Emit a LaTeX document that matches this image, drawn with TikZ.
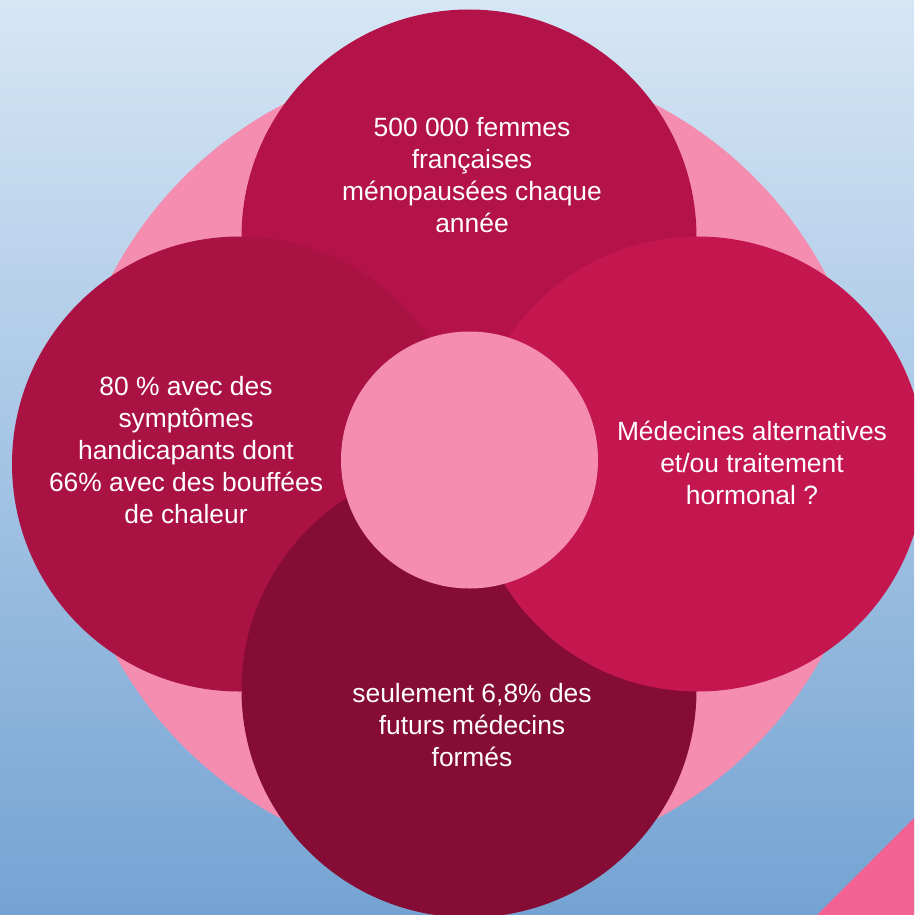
\documentclass[tikz,border=0pt]{standalone}
\usepackage{fontspec}
\setmainfont{Liberation Sans}
\definecolor{bgtop}{HTML}{D6E6F5}
\definecolor{bgbot}{HTML}{74A3D3}
\definecolor{pinkc}{HTML}{F48DB0}
\definecolor{topc}{HTML}{B31349}
\definecolor{leftc}{HTML}{AA1243}
\definecolor{rightc}{HTML}{C4164F}
\definecolor{botc}{HTML}{850D35}
\definecolor{corner}{HTML}{F26293}
\tikzset{
 circ/.style={circle,inner sep=0pt,minimum size=#1pt},
 lab/.style={text=white,align=center,font=\fontsize{26.4}{32}\selectfont}}
\begin{document}
\begin{tikzpicture}[x=1pt,y=-1pt]
\useasboundingbox (0,0) rectangle (914,915);
\begin{scope}
\clip (0,0) rectangle (914,915);
\shade[top color=bgtop,bottom color=bgbot] (0,0) rectangle (914,915);
\fill[corner] (914,818) -- (914,915) -- (817,915) -- cycle;
\node[circ=806,fill=pinkc] (back) at (469,462) {};
\node[circ=455,fill=topc] (top) at (469,237) {};
\node[circ=455,fill=leftc] (left) at (239.5,464) {};
\node[circ=455,fill=botc] (bot) at (469,690) {};
\node[circ=455,fill=rightc] (right) at (697.5,464) {};
\node[circ=257,fill=pinkc] (mid) at (469.5,460) {};
\end{scope}
\node[lab] at (472,175) {500 000 femmes\\françaises\\ménopausées chaque\\année};
\node[lab] at (186,450) {80 \% avec des\\symptômes\\handicapants dont\\66\% avec des bouffées\\de chaleur};
\node[lab] at (752,463) {Médecines alternatives\\et/ou traitement\\hormonal ?};
\node[lab] at (472,725) {seulement 6,8\% des\\futurs médecins\\formés};
\end{tikzpicture}
\end{document}
